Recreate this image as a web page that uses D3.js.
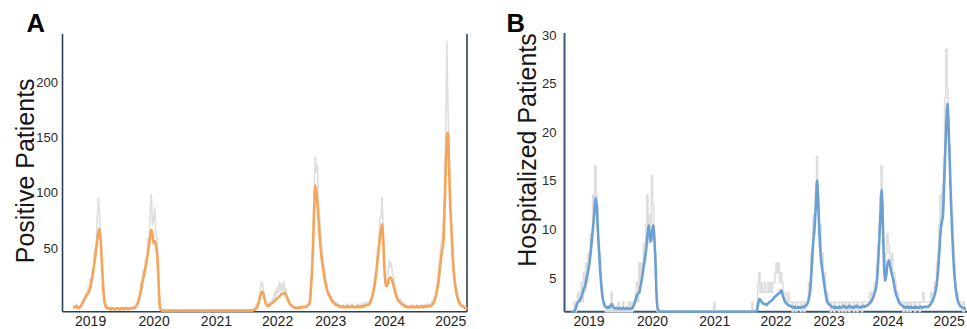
<!DOCTYPE html>
<html><head><meta charset="utf-8">
<script src="https://cdn.jsdelivr.net/npm/d3@7"></script>
<style>body{margin:0;background:#fff}svg{display:block}</style>
</head><body>
<svg id="chart" width="967" height="329"></svg>
<script>
// ---- data (weekly series, week index 0..340) ----
const yearLabels = ["2019","2020","2021","2022","2023","2024","2025"];
const yearTickWeeks = [14, 69, 123, 176, 222, 273, 326];
const posTicks = [50, 100, 150, 200];
const hospTicks = [5, 10, 15, 20, 25, 30];

const posSmooth = [
4,4,5,4,3,4,5,7,9,11,
13,15,16,18,21,26,32,39,46,55,
63,71,75,66,48,28,12,6,4,3,
3,3,2,3,3,2,2,3,3,2,
2,3,3,2,3,3,3,2,3,3,
3,3,3,4,5,7,10,14,19,25,
30,35,40,46,52,60,68,74,70,62,
64,60,52,35,10,2,1,1,1,1,
1,1,1,1,1,1,1,1,1,1,
1,1,1,1,1,1,1,1,1,1,
1,1,1,1,1,1,1,1,1,1,
1,1,1,1,1,1,1,1,1,1,
1,1,1,1,1,1,1,1,1,1,
1,1,1,1,1,1,1,1,1,1,
1,1,1,1,1,1,1,1,1,1,
1,1,1,1,1,1,2,2,3,5,
8,12,16,18,17,12,8,6,5,5,
7,7,8,9,10,11,12,13,14,15,
16,16,17,16,14,12,9,7,6,5,
4,4,3,3,3,4,3,4,4,4,
4,4,5,6,7,15,32,55,88,114,
108,97,82,66,54,45,38,31,25,21,
17,15,13,11,9,8,7,6,6,5,
5,4,4,5,4,4,4,5,4,4,
4,5,4,4,4,4,5,4,4,5,
4,5,5,6,6,6,7,9,12,16,
21,28,36,46,56,66,74,79,62,38,
25,23,26,30,31,30,27,23,19,15,
12,10,9,8,7,6,5,5,4,4,
4,4,4,5,4,4,4,5,4,4,
4,5,4,4,5,4,5,5,5,5,
6,7,9,12,16,22,28,38,48,56,
62,90,125,158,162,130,95,75,52,36,
26,19,14,10,8,6,5,5,4,3,
3];

const posRaw = [
6,3,7,4,3,5,6,8,12,10,
16,14,22,18,30,24,40,34,56,50,
80,103,92,70,58,34,20,8,6,3,
4,2,4,3,3,2,3,4,2,3,
3,4,2,3,4,3,4,2,3,4,
4,3,5,4,8,6,14,12,26,20,
38,32,48,44,66,58,92,106,78,84,
94,70,66,40,16,3,1,1,1,1,
1,1,1,1,1,1,1,1,1,1,
1,1,1,1,1,1,1,1,1,1,
1,1,1,1,1,1,1,1,1,1,
1,1,1,1,1,1,1,1,1,1,
1,1,1,1,1,1,1,1,1,1,
1,1,1,1,1,1,1,1,1,1,
1,1,1,1,1,1,1,1,1,1,
1,1,1,1,1,1,3,3,7,6,
13,14,25,27,20,14,9,6,7,5,
9,8,12,10,18,14,22,17,27,18,
26,19,27,18,20,13,12,8,7,5,
6,4,5,4,5,4,5,4,6,5,
5,6,5,9,9,24,38,72,104,140,
126,132,96,84,62,58,42,40,28,27,
19,18,14,14,10,11,8,9,7,7,
6,5,6,5,6,5,5,7,5,6,
5,7,5,6,5,6,7,5,6,7,
6,8,6,8,8,9,8,12,14,22,
22,36,38,58,60,84,86,103,72,50,
28,32,34,47,40,44,33,32,22,20,
14,13,10,11,8,8,6,7,5,6,
5,5,6,5,6,5,5,6,5,6,
5,6,5,6,6,5,7,6,7,6,
9,8,13,14,22,26,40,50,62,66,
82,104,150,244,186,150,108,86,62,46,
32,24,17,13,9,8,6,6,5,4,
4];

const hospSmooth = [
0,0,0.1,0.4,0.8,1.0,1.1,1.3,1.6,2.0,
2.4,2.6,3.3,3.8,4.4,5.2,6.2,7.6,8.8,10.2,
11.7,11.0,8.6,6.4,4.4,2.8,1.6,1.0,0.6,0.5,
0.4,0.5,0.4,0.6,0.8,0.6,0.4,0.3,0.4,0.3,
0.3,0.4,0.3,0.3,0.4,0.3,0.3,0.4,0.3,0.3,
0.3,0.3,0.4,0.6,0.9,1.3,1.7,1.9,2.0,2.6,
3.2,4.0,4.8,5.6,6.5,7.8,8.9,8.0,7.2,8.0,
8.9,7.6,5.0,1.5,0.3,0.1,0,0,0,0,
0,0,0,0,0,0,0,0,0,0,
0,0,0,0,0,0,0,0,0,0,
0,0,0,0,0,0,0,0,0,0,
0,0,0,0,0,0,0,0,0,0,
0,0,0,0,0,0,0,0,0,0,
0,0,0,0,0,0,0,0,0,0,
0,0,0,0,0,0,0,0,0,0,
0,0,0,0,0,0,0,0,0,0,
0.2,0.8,1.3,1.2,1.0,0.9,0.8,0.8,0.7,0.8,
0.9,1.0,1.1,1.2,1.3,1.5,1.6,1.7,1.8,1.9,
2.0,2.2,1.8,1.4,1.1,0.9,0.8,0.7,0.6,0.6,
0.5,0.5,0.4,0.5,0.4,0.4,0.5,0.4,0.4,0.5,
0.5,0.5,0.6,0.7,0.9,1.4,2.2,3.8,6.0,7.6,
9.0,11.0,13.5,11.2,8.2,6.0,4.8,3.9,3.0,2.2,
1.4,1.0,0.8,0.7,0.6,0.5,0.5,0.4,0.5,0.4,
0.4,0.5,0.4,0.4,0.5,0.6,0.5,0.4,0.4,0.5,
0.6,0.5,0.4,0.5,0.4,0.5,0.6,0.5,0.5,0.4,
0.5,0.5,0.6,0.5,0.6,0.6,0.7,0.8,0.9,1.1,
1.3,1.6,2.0,2.4,3.4,5.2,7.6,10.2,12.5,9.0,
5.0,3.2,3.8,4.8,5.3,4.9,4.3,3.8,3.3,2.6,
2.0,1.6,1.3,1.0,0.8,0.7,0.6,0.5,0.5,0.4,
0.5,0.5,0.4,0.5,0.4,0.4,0.5,0.4,0.5,0.4,
0.4,0.5,0.5,0.4,0.5,0.5,0.5,0.5,0.5,0.6,
0.7,0.9,1.1,1.4,1.8,2.3,3.2,4.5,6.3,8.2,
9.2,9.8,12.8,16.2,19.4,21.4,18.8,15.2,11.4,8.4,
5.8,3.8,2.5,1.6,1.1,0.8,0.6,0.5,0.4,0.4,
0.3];

const hospRaw = [
0,0,1,0,1,2,1,2,3,1,
4,2,5,3,6,5,8,7,12,10,
15,12,11,7,6,3,2,1,1,0,
0,0,0,0,2,0,0,0,0,0,
1,0,0,0,1,0,0,0,0,1,
0,1,0,1,1,2,3,1,5,3,
5,4,7,5,9,12,7,10,8,14,
11,8,6,2,0,0,0,0,0,0,
0,0,0,0,0,0,0,0,0,0,
0,0,0,0,0,0,0,0,0,0,
0,0,0,0,0,0,0,0,0,0,
0,0,0,0,0,0,0,0,0,0,
0,0,0,1,0,0,0,0,0,0,
0,0,0,0,0,0,0,0,0,0,
0,0,0,0,0,0,0,0,0,0,
0,0,0,0,0,0,1,0,0,0,
1,3,4,2,3,2,2,3,2,2,
3,2,3,2,3,3,4,5,4,5,
3,4,3,2,2,1,1,2,1,1,
1,0,1,1,0,1,1,1,0,1,
1,0,1,1,1,3,2,6,5,10,
8,12,16,12,8,9,5,6,3,4,
1,2,1,1,0,1,1,0,1,1,
1,0,1,1,0,1,1,0,1,1,
0,1,1,1,0,1,1,0,1,1,
1,0,1,1,1,1,1,1,2,1,
2,2,3,3,5,7,9,12,15,11,
6,4,6,8,7,6,5,6,4,4,
3,2,2,1,1,1,1,0,1,1,
0,1,1,0,1,1,1,0,1,1,
1,0,1,1,2,1,1,1,1,1,
1,2,1,2,3,3,5,6,9,12,
9,13,16,22,27,23,20,17,13,10,
7,5,3,2,2,1,1,1,1,0,
1];

// ---- layout / style ----
const FONT = "'Liberation Sans', Arial, Helvetica, sans-serif";
const panels = [
  { letter:"A", title:"Positive Patients", smooth:posSmooth, raw:posRaw, ticks:posTicks,
    line:"#f5a55a", axisCol:"#2d3f58", yMax:251, axisX:62.5, xStart:73.97, xEnd:466.4,
    right:467, extendTo:467, border:true, top:34, labelShift:-8.5, pad:4.5,
    titleX:33.5, titleY:170.8, titleSize:25, letterX:26.5, rawCurve:d3.curveLinear, axisW:1.6 },
  { letter:"B", title:"Hospitalized Patients", smooth:hospSmooth, raw:hospRaw, ticks:hospTicks,
    line:"#6c9fd2", axisCol:"#3a5676", yMax:28.68, axisX:564.5, xStart:572.37, xEnd:964.8,
    right:967, extendTo:967, border:false, top:33, labelShift:14.8, pad:8,
    titleX:535.5, titleY:150, titleSize:25, letterX:506.5, rawCurve:d3.curveStep, axisW:2 }
];
const baseY = 311.7;

const svg = d3.select("#chart");

panels.forEach(p => {
  const n = p.smooth.length;
  const x = d3.scaleLinear().domain([0, n - 1]).range([p.xStart, p.xEnd]);
  const y = d3.scaleLinear().domain([0, p.yMax]).range([baseY, p.top]);
  const g = svg.append("g");

  // frame lines
  g.append("line").attr("x1", p.axisX).attr("x2", p.axisX).attr("y1", p.top).attr("y2", baseY)
    .attr("stroke", p.axisCol).attr("stroke-width", p.axisW);
  g.append("line").attr("x1", p.axisX).attr("x2", p.extendTo).attr("y1", baseY).attr("y2", baseY)
    .attr("stroke", p.axisCol).attr("stroke-width", p.axisW);
  if (p.border) {
    g.append("line").attr("x1", p.right).attr("x2", p.right).attr("y1", p.top).attr("y2", baseY)
      .attr("stroke", p.axisCol).attr("stroke-width", p.axisW);
  }

  // y axis labels
  const ya = g.append("g").attr("transform", `translate(${p.axisX},0)`)
    .call(d3.axisLeft(y).tickValues(p.ticks).tickSize(0).tickPadding(p.pad));
  ya.select(".domain").remove();
  ya.selectAll("text").attr("transform", `translate(0,${p.labelShift})`)
    .attr("fill", "#2a2a2a").style("font-family", FONT).style("font-size", "13px");

  // x axis labels
  const xa = g.append("g").attr("transform", `translate(0,${baseY})`)
    .call(d3.axisBottom(x).tickValues(yearTickWeeks).tickFormat((d, i) => yearLabels[i])
      .tickSize(0).tickPadding(4.6));
  xa.select(".domain").remove();
  xa.selectAll("text").attr("fill", "#1e1e1e").style("font-family", FONT).style("font-size", "14px");

  // raw (gray) then smoothed line
  const idx = d3.range(n);
  g.append("path").datum(idx)
    .attr("fill", "none").attr("stroke", "#dedede").attr("stroke-width", 1.6)
    .attr("stroke-linejoin", "round")
    .attr("d", d3.line().curve(p.rawCurve).x(i => x(i)).y(i => y(p.raw[i])));
  g.append("path").datum(idx)
    .attr("fill", "none").attr("stroke", p.line).attr("stroke-width", 2.6)
    .attr("stroke-linejoin", "round").attr("stroke-linecap", "round")
    .attr("d", d3.line().curve(d3.curveMonotoneX).x(i => x(i)).y(i => y(p.smooth[i])));

  // titles
  g.append("text").attr("transform", `translate(${p.titleX},${p.titleY}) rotate(-90)`)
    .attr("text-anchor", "middle").attr("fill", "#161616")
    .style("font-family", FONT).style("font-size", p.titleSize + "px").text(p.title);
  g.append("text").attr("x", p.letterX).attr("y", 31.7).attr("fill", "#000")
    .style("font-family", FONT).style("font-weight", "bold").style("font-size", "25.5px").text(p.letter);
});
</script>
</body></html>
